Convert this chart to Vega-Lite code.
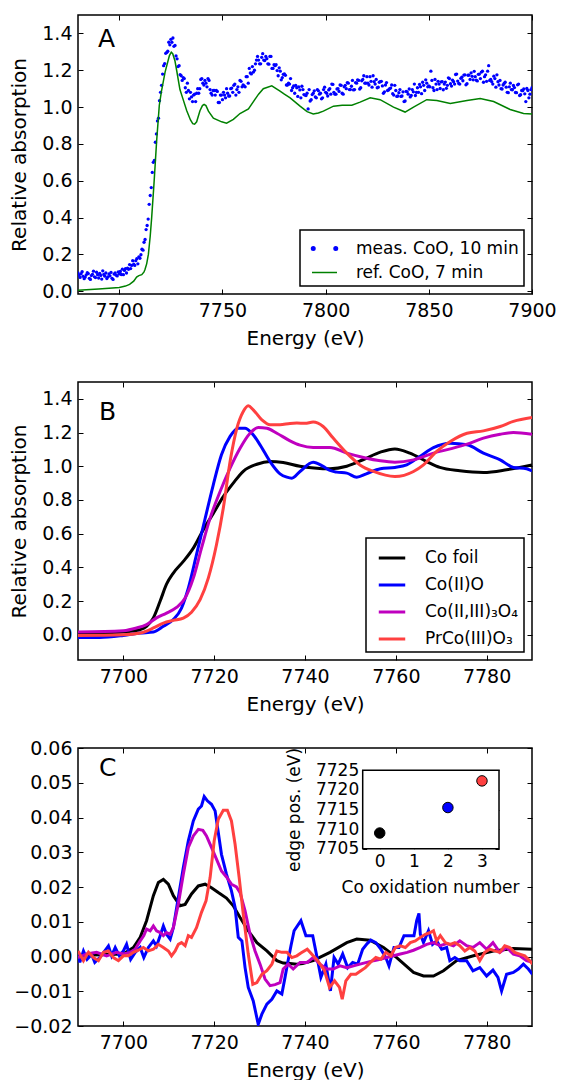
{
"$schema": "https://vega.github.io/schema/vega-lite/v6.json",
"background": "white",
"padding": {"left": 8, "top": 13, "right": 30, "bottom": 0},
"spacing": 88,
"bounds": "flush",
"resolve": {"scale": {"color": "independent"}, "legend": {"color": "independent"}},
"config": {
  "font": "DejaVu Sans",
  "view": {"stroke": "black", "strokeWidth": 1.5},
  "axis": {"domain": false, "grid": false, "ticks": true, "tickColor": "black", "tickWidth": 1, "tickSize": -5, "labelFontSize": 19, "labelColor": "black", "labelPadding": 11, "labelFlush": false, "labelOverlap": false, "titleFontSize": 20, "titleFontWeight": "normal", "titleColor": "black"},
  "axisX": {"labelPadding": 12},
  "legend": {"labelFontSize": 17, "labelColor": "black", "labelLimit": 400, "strokeColor": "black", "fillColor": "white", "padding": 5, "symbolOffset": 6, "rowPadding": 2, "labelOffset": 18, "cornerRadius": 0, "orient": "bottom-right", "offset": 8},
  "title": {"fontSize": 25, "fontWeight": "normal", "anchor": "start", "color": "black", "frame": "group", "baseline": "alphabetic"}
},
"datasets": {
  "measA": [
    {"e":7680,"v":0.099},{"e":7680.5,"v":0.088},{"e":7681,"v":0.075},{"e":7681.5,"v":0.095},{"e":7682,"v":0.106},{"e":7682.5,"v":0.081},{"e":7683,"v":0.068},{"e":7683.5,"v":0.077},{"e":7684,"v":0.089},{"e":7684.5,"v":0.101},{"e":7685,"v":0.096},{"e":7685.5,"v":0.07},{"e":7686,"v":0.064},{"e":7686.5,"v":0.085},{"e":7687,"v":0.092},{"e":7687.5,"v":0.109},{"e":7688,"v":0.078},{"e":7688.5,"v":0.074},{"e":7689,"v":0.103},{"e":7689.5,"v":0.09},{"e":7690,"v":0.072},{"e":7690.5,"v":0.097},{"e":7691,"v":0.086},{"e":7691.5,"v":0.066},{"e":7692,"v":0.111},{"e":7692.5,"v":0.091},{"e":7693,"v":0.082},{"e":7693.5,"v":0.099},{"e":7694,"v":0.069},{"e":7694.5,"v":0.078},{"e":7695,"v":0.094},{"e":7695.5,"v":0.083},{"e":7696,"v":0.102},{"e":7696.5,"v":0.07},{"e":7697,"v":0.064},{"e":7697.5,"v":0.093},{"e":7698,"v":0.1},{"e":7698.5,"v":0.087},{"e":7699,"v":0.083},{"e":7699.5,"v":0.105},{"e":7700,"v":0.094},
    {"e":7700.5,"v":0.107},{"e":7701,"v":0.091},{"e":7701.5,"v":0.12},{"e":7702,"v":0.09},{"e":7702.5,"v":0.113},{"e":7703,"v":0.122},{"e":7703.5,"v":0.099},{"e":7704,"v":0.126},{"e":7704.5,"v":0.119},{"e":7705,"v":0.145},{"e":7705.5,"v":0.123},{"e":7706,"v":0.14},{"e":7706.5,"v":0.166},{"e":7707,"v":0.147},{"e":7707.5,"v":0.14},{"e":7708,"v":0.166},{"e":7708.5,"v":0.177},{"e":7709,"v":0.149},{"e":7709.5,"v":0.187},{"e":7710,"v":0.179},{"e":7710.5,"v":0.198},{"e":7711,"v":0.228},{"e":7711.5,"v":0.223},{"e":7712,"v":0.266},{"e":7712.5,"v":0.281},{"e":7713,"v":0.335},{"e":7713.5,"v":0.357},{"e":7714,"v":0.392},{"e":7714.5,"v":0.472},{"e":7715,"v":0.52},{"e":7715.5,"v":0.563},{"e":7716,"v":0.645},{"e":7716.5,"v":0.7},{"e":7717,"v":0.71},{"e":7717.5,"v":0.809},{"e":7718,"v":0.854},{"e":7718.5,"v":0.925},{"e":7719,"v":0.94},{"e":7719.5,"v":1.035},{"e":7720,"v":1.08},{"e":7720.5,"v":1.118},{"e":7721,"v":1.179},{"e":7721.5,"v":1.225},{"e":7722,"v":1.236},{"e":7722.5,"v":1.292},{"e":7723,"v":1.297},{"e":7723.5,"v":1.303},{"e":7724,"v":1.352},{"e":7724.5,"v":1.338},{"e":7725,"v":1.368},{"e":7725.5,"v":1.352},{"e":7726,"v":1.375},{"e":7726.5,"v":1.33},{"e":7727,"v":1.335},{"e":7727.5,"v":1.278},{"e":7728,"v":1.262},{"e":7728.5,"v":1.22},{"e":7729,"v":1.225},{"e":7729.5,"v":1.176},{"e":7730,"v":1.17},
    {"e":7731,"v":1.16},{"e":7732,"v":1.105},{"e":7733,"v":1.13},{"e":7734,"v":1.045},{"e":7735,"v":1.055},{"e":7736,"v":1.065},{"e":7737,"v":1.03},{"e":7738,"v":1.1},{"e":7739,"v":1.1},{"e":7740,"v":1.155},{"e":7741,"v":1.12},{"e":7742,"v":1.13},{"e":7743,"v":1.155},{"e":7744,"v":1.095},{"e":7745,"v":1.065},{"e":7746,"v":1.09},{"e":7747,"v":1.09},{"e":7748,"v":1.025},{"e":7749,"v":1.065},{"e":7750,"v":1.04},{"e":7751,"v":1.065},{"e":7752,"v":1.1},{"e":7753,"v":1.06},{"e":7754,"v":1.1},{"e":7755,"v":1.08},{"e":7756,"v":1.125},{"e":7757,"v":1.095},{"e":7758,"v":1.08},{"e":7759,"v":1.14},{"e":7760,"v":1.12},{"e":7761,"v":1.11},{"e":7762,"v":1.165},{"e":7763,"v":1.21},{"e":7764,"v":1.18},{"e":7765,"v":1.19},{"e":7766,"v":1.235},{"e":7767,"v":1.275},{"e":7768,"v":1.235},{"e":7769,"v":1.27},{"e":7770,"v":1.255},{"e":7771,"v":1.275},{"e":7772,"v":1.235},{"e":7773,"v":1.275},{"e":7774,"v":1.21},{"e":7775,"v":1.23},{"e":7776,"v":1.23},{"e":7777,"v":1.17},{"e":7778,"v":1.195},{"e":7779,"v":1.16},{"e":7780,"v":1.18},{"e":7781,"v":1.12},{"e":7782,"v":1.13},{"e":7783,"v":1.155},{"e":7784,"v":1.105},{"e":7785,"v":1.075},{"e":7786,"v":1.105},{"e":7787,"v":1.11},{"e":7788,"v":1.05},{"e":7789,"v":1.095},{"e":7790,"v":1.065},{"e":7791,"v":1.075},{"e":7792,"v":1.095},{"e":7793,"v":1.04},{"e":7794,"v":1.075},{"e":7795,"v":1.055},{"e":7796,"v":1.095},{"e":7797,"v":1.07},{"e":7798,"v":1.045},{"e":7799,"v":1.095},{"e":7800,"v":1.08},{"e":7801,"v":1.06},{"e":7802,"v":1.1},{"e":7803,"v":1.125},{"e":7804,"v":1.08},{"e":7805,"v":1.07},{"e":7806,"v":1.1},{"e":7807,"v":1.12},{"e":7808,"v":1.075},{"e":7809,"v":1.11},{"e":7810,"v":1.1},{"e":7811,"v":1.13},{"e":7812,"v":1.095},{"e":7813,"v":1.145},{"e":7814,"v":1.095},{"e":7815,"v":1.13},{"e":7816,"v":1.145},{"e":7817,"v":1.105},{"e":7818,"v":1.15},{"e":7819,"v":1.13},{"e":7820,"v":1.165},{"e":7821,"v":1.12},{"e":7822,"v":1.14},{"e":7823,"v":1.17},{"e":7824,"v":1.125},{"e":7825,"v":1.105},{"e":7826,"v":1.135},{"e":7827,"v":1.14},{"e":7828,"v":1.075},{"e":7829,"v":1.12},{"e":7830,"v":1.09},{"e":7831,"v":1.1},{"e":7832,"v":1.12},{"e":7833,"v":1.065},{"e":7834,"v":1.09},{"e":7835,"v":1.06},{"e":7836,"v":1.095},{"e":7837,"v":1.06},{"e":7838,"v":1.03},{"e":7839,"v":1.085},{"e":7840,"v":1.07},{"e":7841,"v":1.055},{"e":7842,"v":1.095},{"e":7843,"v":1.125},{"e":7844,"v":1.08},{"e":7845,"v":1.08},{"e":7846,"v":1.11},{"e":7847,"v":1.135},{"e":7848,"v":1.09},{"e":7849,"v":1.13},{"e":7850,"v":1.115},{"e":7851,"v":1.195},{"e":7852,"v":1.105},{"e":7853,"v":1.15},{"e":7854,"v":1.095},{"e":7855,"v":1.125},{"e":7856,"v":1.137},{"e":7857,"v":1.094},{"e":7858,"v":1.136},{"e":7859,"v":1.118},{"e":7860,"v":1.155},{"e":7861,"v":1.114},{"e":7862,"v":1.138},{"e":7863,"v":1.177},{"e":7864,"v":1.141},{"e":7865,"v":1.125},{"e":7866,"v":1.162},{"e":7867,"v":1.174},{"e":7868,"v":1.121},{"e":7869,"v":1.173},{"e":7870,"v":1.15},{"e":7871,"v":1.167},{"e":7872,"v":1.194},{"e":7873,"v":1.146},{"e":7874,"v":1.178},{"e":7875,"v":1.155},{"e":7876,"v":1.195},{"e":7877,"v":1.165},{"e":7878,"v":1.14},{"e":7879,"v":1.225},{"e":7880,"v":1.15},{"e":7881,"v":1.125},{"e":7882,"v":1.155},{"e":7883,"v":1.175},{"e":7884,"v":1.12},{"e":7885,"v":1.1},{"e":7886,"v":1.12},{"e":7887,"v":1.135},{"e":7888,"v":1.08},{"e":7889,"v":1.11},{"e":7890,"v":1.095},{"e":7891,"v":1.117},{"e":7892,"v":1.079},{"e":7893,"v":1.121},{"e":7894,"v":1.063},{"e":7895,"v":1.09},{"e":7896,"v":1.098},{"e":7897,"v":1.03},{"e":7898,"v":1.09},{"e":7899,"v":1.07},{"e":7900,"v":1.105},
    {"e":7730.5,"v":1.145},{"e":7731.5,"v":1.155},{"e":7732.5,"v":1.08},{"e":7733.5,"v":1.09},{"e":7734.5,"v":1.08},{"e":7735.5,"v":1.03},{"e":7736.5,"v":1.07},{"e":7737.5,"v":1.075},{"e":7738.5,"v":1.075},{"e":7739.5,"v":1.15},{"e":7740.5,"v":1.13},{"e":7741.5,"v":1.145},{"e":7742.5,"v":1.11},{"e":7743.5,"v":1.145},{"e":7744.5,"v":1.075},{"e":7745.5,"v":1.09},{"e":7746.5,"v":1.065},{"e":7747.5,"v":1.085},{"e":7748.5,"v":1.025},{"e":7749.5,"v":1.065},{"e":7750.5,"v":1.08},{"e":7751.5,"v":1.05},{"e":7752.5,"v":1.075},{"e":7753.5,"v":1.06},{"e":7754.5,"v":1.103},{"e":7755.5,"v":1.118},{"e":7756.5,"v":1.065},{"e":7757.5,"v":1.11},{"e":7758.5,"v":1.145},{"e":7759.5,"v":1.11},{"e":7760.5,"v":1.115},{"e":7761.5,"v":1.165},{"e":7762.5,"v":1.13},{"e":7763.5,"v":1.185},{"e":7764.5,"v":1.22},{"e":7765.5,"v":1.2},{"e":7766.5,"v":1.255},{"e":7767.5,"v":1.255},{"e":7768.5,"v":1.235},{"e":7769.5,"v":1.29},{"e":7770.5,"v":1.253},{"e":7771.5,"v":1.263},{"e":7772.5,"v":1.233},{"e":7773.5,"v":1.275},{"e":7774.5,"v":1.21},{"e":7775.5,"v":1.225},{"e":7776.5,"v":1.198},{"e":7777.5,"v":1.213},{"e":7778.5,"v":1.148},{"e":7779.5,"v":1.178},{"e":7780.5,"v":1.173},{"e":7781.5,"v":1.12},{"e":7782.5,"v":1.125},{"e":7783.5,"v":1.09},{"e":7784.5,"v":1.115},{"e":7785.5,"v":1.118},{"e":7786.5,"v":1.058},{"e":7787.5,"v":1.093},{"e":7788.5,"v":1.113},{"e":7789.5,"v":1.068},{"e":7790.5,"v":1.063},{"e":7791.5,"v":0.99},{"e":7792.5,"v":1.033},{"e":7793.5,"v":1.068},{"e":7794.5,"v":1.088},{"e":7795.5,"v":1.05},{"e":7796.5,"v":1.088},{"e":7797.5,"v":1.075},{"e":7798.5,"v":1.05},{"e":7799.5,"v":1.108},{"e":7800.5,"v":1.075},{"e":7801.5,"v":1.093},{"e":7802.5,"v":1.07},{"e":7803.5,"v":1.123},{"e":7804.5,"v":1.07},{"e":7805.5,"v":1.098},{"e":7806.5,"v":1.085},{"e":7807.5,"v":1.118},{"e":7808.5,"v":1.07},{"e":7809.5,"v":1.118},{"e":7810.5,"v":1.133},{"e":7811.5,"v":1.095},{"e":7812.5,"v":1.113},{"e":7813.5,"v":1.093},{"e":7814.5,"v":1.133},{"e":7815.5,"v":1.148},{"e":7816.5,"v":1.098},{"e":7817.5,"v":1.143},{"e":7818.5,"v":1.17},{"e":7819.5,"v":1.13},{"e":7820.5,"v":1.13},{"e":7821.5,"v":1.165},{"e":7822.5,"v":1.108},{"e":7823.5,"v":1.138},{"e":7824.5,"v":1.15},{"e":7825.5,"v":1.108},{"e":7826.5,"v":1.138},{"e":7827.5,"v":1.115},{"e":7828.5,"v":1.083},{"e":7829.5,"v":1.133},{"e":7830.5,"v":1.093},{"e":7831.5,"v":1.103},{"e":7832.5,"v":1.073},{"e":7833.5,"v":1.118},{"e":7834.5,"v":1.058},{"e":7835.5,"v":1.078},{"e":7836.5,"v":1.058},{"e":7837.5,"v":1.083},{"e":7838.5,"v":1.033},{"e":7839.5,"v":1.083},{"e":7840.5,"v":1.098},{"e":7841.5,"v":1.063},{"e":7842.5,"v":1.083},{"e":7843.5,"v":1.063},{"e":7844.5,"v":1.105},{"e":7845.5,"v":1.123},{"e":7846.5,"v":1.073},{"e":7847.5,"v":1.118},{"e":7848.5,"v":1.148},{"e":7849.5,"v":1.11},{"e":7850.5,"v":1.11},{"e":7851.5,"v":1.145},{"e":7852.5,"v":1.09},{"e":7853.5,"v":1.125},{"e":7854.5,"v":1.14},{"e":7855.5,"v":1.101},{"e":7856.5,"v":1.138},{"e":7857.5,"v":1.125},{"e":7858.5,"v":1.102},{"e":7859.5,"v":1.159},{"e":7860.5,"v":1.127},{"e":7861.5,"v":1.146},{"e":7862.5,"v":1.125},{"e":7863.5,"v":1.179},{"e":7864.5,"v":1.128},{"e":7865.5,"v":1.156},{"e":7866.5,"v":1.143},{"e":7867.5,"v":1.175},{"e":7868.5,"v":1.127},{"e":7869.5,"v":1.174},{"e":7870.5,"v":1.186},{"e":7871.5,"v":1.148},{"e":7872.5,"v":1.165},{"e":7873.5,"v":1.142},{"e":7874.5,"v":1.179},{"e":7875.5,"v":1.19},{"e":7876.5,"v":1.135},{"e":7877.5,"v":1.175},{"e":7878.5,"v":1.195},{"e":7879.5,"v":1.145},{"e":7880.5,"v":1.138},{"e":7881.5,"v":1.168},{"e":7882.5,"v":1.108},{"e":7883.5,"v":1.138},{"e":7884.5,"v":1.145},{"e":7885.5,"v":1.098},{"e":7886.5,"v":1.128},{"e":7887.5,"v":1.108},{"e":7888.5,"v":1.078},{"e":7889.5,"v":1.13},{"e":7890.5,"v":1.094},{"e":7891.5,"v":1.106},{"e":7892.5,"v":1.078},{"e":7893.5,"v":1.125},{"e":7894.5,"v":1.067},{"e":7895.5,"v":1.089},{"e":7896.5,"v":1.072},{"e":7897.5,"v":1.101},{"e":7898.5,"v":1.05},{"e":7899.5,"v":1.095}
  ],
  "refA": [
    {"e":7680,"v":0.005},{"e":7690,"v":0.012},{"e":7700,"v":0.02},{"e":7703,"v":0.028},{"e":7705,"v":0.037},{"e":7707,"v":0.055},{"e":7708.4,"v":0.077},{"e":7709.5,"v":0.085},{"e":7710.9,"v":0.09},{"e":7712,"v":0.105},{"e":7712.5,"v":0.12},{"e":7713.3,"v":0.15},{"e":7714.1,"v":0.2},{"e":7715,"v":0.3},{"e":7715.7,"v":0.4},{"e":7716.8,"v":0.58},{"e":7718.1,"v":0.815},{"e":7719.4,"v":1.01},{"e":7720.5,"v":1.09},{"e":7722.2,"v":1.19},{"e":7724.3,"v":1.28},{"e":7725.2,"v":1.298},{"e":7725.9,"v":1.29},{"e":7727,"v":1.25},{"e":7727.8,"v":1.2},{"e":7729.4,"v":1.095},{"e":7730.7,"v":1.05},{"e":7732.7,"v":0.98},{"e":7734.5,"v":0.93},{"e":7735.6,"v":0.91},{"e":7736.5,"v":0.907},{"e":7737.5,"v":0.92},{"e":7739.1,"v":0.98},{"e":7740.3,"v":1.008},{"e":7741.1,"v":1.015},{"e":7742,"v":1.008},{"e":7743.2,"v":0.978},{"e":7745.6,"v":0.94},{"e":7749.6,"v":0.92},{"e":7752,"v":0.913},{"e":7755.3,"v":0.933},{"e":7758.5,"v":0.965},{"e":7762.6,"v":0.99},{"e":7765,"v":1.03},{"e":7767.5,"v":1.07},{"e":7769.8,"v":1.1},{"e":7773.9,"v":1.115},{"e":7777.9,"v":1.087},{"e":7780,"v":1.07},{"e":7782.8,"v":1.05},{"e":7787.6,"v":1.005},{"e":7791,"v":0.975},{"e":7794,"v":0.963},{"e":7796.5,"v":0.968},{"e":7798.9,"v":0.978},{"e":7803.8,"v":1.005},{"e":7808,"v":1.01},{"e":7812.7,"v":1.01},{"e":7816.7,"v":1.027},{"e":7821.6,"v":1.05},{"e":7826.4,"v":1.04},{"e":7832.9,"v":1.0},{"e":7838.5,"v":0.973},{"e":7842.6,"v":1.0},{"e":7849,"v":1.04},{"e":7853.9,"v":1.036},{"e":7860.4,"v":1.02},{"e":7868.5,"v":1.036},{"e":7874.9,"v":1.047},{"e":7881.4,"v":1.03},{"e":7889.4,"v":0.987},{"e":7895.9,"v":0.965},{"e":7900,"v":0.963}
  ],
  "B": [
    {"s":"Co foil","e":7690,"v":0.01},{"s":"Co foil","e":7695,"v":0.012},{"s":"Co foil","e":7700,"v":0.016},{"s":"Co foil","e":7702,"v":0.022},{"s":"Co foil","e":7703.7,"v":0.03},{"s":"Co foil","e":7705.1,"v":0.05},{"s":"Co foil","e":7706.6,"v":0.1},{"s":"Co foil","e":7708.1,"v":0.2},{"s":"Co foil","e":7709.5,"v":0.3},{"s":"Co foil","e":7711,"v":0.366},{"s":"Co foil","e":7713.2,"v":0.435},{"s":"Co foil","e":7715.4,"v":0.514},{"s":"Co foil","e":7717.6,"v":0.623},{"s":"Co foil","e":7719.8,"v":0.72},{"s":"Co foil","e":7722,"v":0.82},{"s":"Co foil","e":7724.2,"v":0.9},{"s":"Co foil","e":7726.4,"v":0.97},{"s":"Co foil","e":7729.4,"v":1.012},{"s":"Co foil","e":7732.3,"v":1.028},{"s":"Co foil","e":7735.2,"v":1.022},{"s":"Co foil","e":7738.9,"v":1.0},{"s":"Co foil","e":7742,"v":0.99},{"s":"Co foil","e":7745.5,"v":0.985},{"s":"Co foil","e":7749.2,"v":1.0},{"s":"Co foil","e":7752.9,"v":1.04},{"s":"Co foil","e":7756.6,"v":1.084},{"s":"Co foil","e":7759.8,"v":1.103},{"s":"Co foil","e":7763.1,"v":1.078},{"s":"Co foil","e":7766.8,"v":1.028},{"s":"Co foil","e":7769.7,"v":0.993},{"s":"Co foil","e":7774.1,"v":0.973},{"s":"Co foil","e":7779.3,"v":0.963},{"s":"Co foil","e":7784.4,"v":0.979},{"s":"Co foil","e":7790,"v":1.008},
    {"s":"Co(II)O","e":7690,"v":-0.016},{"s":"Co(II)O","e":7694.8,"v":-0.016},{"s":"Co(II)O","e":7700,"v":-0.004},{"s":"Co(II)O","e":7703.7,"v":0.01},{"s":"Co(II)O","e":7706.6,"v":0.016},{"s":"Co(II)O","e":7708.8,"v":0.05},{"s":"Co(II)O","e":7711,"v":0.09},{"s":"Co(II)O","e":7712.8,"v":0.158},{"s":"Co(II)O","e":7714.3,"v":0.277},{"s":"Co(II)O","e":7716.1,"v":0.475},{"s":"Co(II)O","e":7718,"v":0.69},{"s":"Co(II)O","e":7719.8,"v":0.89},{"s":"Co(II)O","e":7721.6,"v":1.068},{"s":"Co(II)O","e":7723.5,"v":1.177},{"s":"Co(II)O","e":7725.3,"v":1.226},{"s":"Co(II)O","e":7726.8,"v":1.226},{"s":"Co(II)O","e":7728.3,"v":1.196},{"s":"Co(II)O","e":7730.1,"v":1.127},{"s":"Co(II)O","e":7732.3,"v":1.028},{"s":"Co(II)O","e":7734.5,"v":0.955},{"s":"Co(II)O","e":7736,"v":0.935},{"s":"Co(II)O","e":7737.1,"v":0.929},{"s":"Co(II)O","e":7738.9,"v":0.969},{"s":"Co(II)O","e":7741.8,"v":1.024},{"s":"Co(II)O","e":7744,"v":0.999},{"s":"Co(II)O","e":7745.5,"v":0.975},{"s":"Co(II)O","e":7747,"v":0.965},{"s":"Co(II)O","e":7749.2,"v":0.959},{"s":"Co(II)O","e":7751.4,"v":0.935},{"s":"Co(II)O","e":7753.5,"v":0.955},{"s":"Co(II)O","e":7756.6,"v":0.985},{"s":"Co(II)O","e":7759.8,"v":0.993},{"s":"Co(II)O","e":7762.4,"v":1.008},{"s":"Co(II)O","e":7765.3,"v":1.058},{"s":"Co(II)O","e":7768.3,"v":1.111},{"s":"Co(II)O","e":7772,"v":1.137},{"s":"Co(II)O","e":7775.7,"v":1.127},{"s":"Co(II)O","e":7779.3,"v":1.078},{"s":"Co(II)O","e":7783,"v":1.038},{"s":"Co(II)O","e":7785.9,"v":0.993},{"s":"Co(II)O","e":7788.8,"v":0.985},{"s":"Co(II)O","e":7790,"v":0.973},
    {"s":"Co(II,III)₃O₄","e":7690,"v":0.016},{"s":"Co(II,III)₃O₄","e":7700,"v":0.024},{"s":"Co(II,III)₃O₄","e":7702.9,"v":0.04},{"s":"Co(II,III)₃O₄","e":7705.1,"v":0.06},{"s":"Co(II,III)₃O₄","e":7707.3,"v":0.1},{"s":"Co(II,III)₃O₄","e":7709.5,"v":0.128},{"s":"Co(II,III)₃O₄","e":7711.7,"v":0.162},{"s":"Co(II,III)₃O₄","e":7713.6,"v":0.218},{"s":"Co(II,III)₃O₄","e":7715.4,"v":0.336},{"s":"Co(II,III)₃O₄","e":7717.2,"v":0.514},{"s":"Co(II,III)₃O₄","e":7719.1,"v":0.692},{"s":"Co(II,III)₃O₄","e":7721.3,"v":0.85},{"s":"Co(II,III)₃O₄","e":7723.5,"v":0.989},{"s":"Co(II,III)₃O₄","e":7725.7,"v":1.107},{"s":"Co(II,III)₃O₄","e":7727.9,"v":1.196},{"s":"Co(II,III)₃O₄","e":7729.7,"v":1.23},{"s":"Co(II,III)₃O₄","e":7731.6,"v":1.226},{"s":"Co(II,III)₃O₄","e":7733.8,"v":1.196},{"s":"Co(II,III)₃O₄","e":7736.7,"v":1.151},{"s":"Co(II,III)₃O₄","e":7738.9,"v":1.125},{"s":"Co(II,III)₃O₄","e":7741.8,"v":1.111},{"s":"Co(II,III)₃O₄","e":7745.5,"v":1.111},{"s":"Co(II,III)₃O₄","e":7749.2,"v":1.078},{"s":"Co(II,III)₃O₄","e":7752.9,"v":1.052},{"s":"Co(II,III)₃O₄","e":7756.6,"v":1.032},{"s":"Co(II,III)₃O₄","e":7759.8,"v":1.024},{"s":"Co(II,III)₃O₄","e":7763.9,"v":1.038},{"s":"Co(II,III)₃O₄","e":7768.3,"v":1.078},{"s":"Co(II,III)₃O₄","e":7772,"v":1.103},{"s":"Co(II,III)₃O₄","e":7775.7,"v":1.131},{"s":"Co(II,III)₃O₄","e":7779.3,"v":1.167},{"s":"Co(II,III)₃O₄","e":7783,"v":1.19},{"s":"Co(II,III)₃O₄","e":7785.9,"v":1.2},{"s":"Co(II,III)₃O₄","e":7790,"v":1.19},
    {"s":"PrCo(III)O₃","e":7690,"v":-0.004},{"s":"PrCo(III)O₃","e":7700,"v":0.0},{"s":"PrCo(III)O₃","e":7703.7,"v":0.01},{"s":"PrCo(III)O₃","e":7706.6,"v":0.04},{"s":"PrCo(III)O₃","e":7708.8,"v":0.069},{"s":"PrCo(III)O₃","e":7711,"v":0.085},{"s":"PrCo(III)O₃","e":7713.2,"v":0.099},{"s":"PrCo(III)O₃","e":7715,"v":0.134},{"s":"PrCo(III)O₃","e":7716.9,"v":0.208},{"s":"PrCo(III)O₃","e":7718.7,"v":0.336},{"s":"PrCo(III)O₃","e":7720.5,"v":0.534},{"s":"PrCo(III)O₃","e":7722,"v":0.751},{"s":"PrCo(III)O₃","e":7723.5,"v":1.028},{"s":"PrCo(III)O₃","e":7725,"v":1.226},{"s":"PrCo(III)O₃","e":7726.4,"v":1.325},{"s":"PrCo(III)O₃","e":7727.5,"v":1.359},{"s":"PrCo(III)O₃","e":7728.6,"v":1.335},{"s":"PrCo(III)O₃","e":7730.5,"v":1.275},{"s":"PrCo(III)O₃","e":7732.3,"v":1.246},{"s":"PrCo(III)O₃","e":7734.5,"v":1.246},{"s":"PrCo(III)O₃","e":7736.7,"v":1.254},{"s":"PrCo(III)O₃","e":7738.2,"v":1.256},{"s":"PrCo(III)O₃","e":7740,"v":1.255},{"s":"PrCo(III)O₃","e":7741.8,"v":1.262},{"s":"PrCo(III)O₃","e":7744,"v":1.236},{"s":"PrCo(III)O₃","e":7746.2,"v":1.167},{"s":"PrCo(III)O₃","e":7749.2,"v":1.078},{"s":"PrCo(III)O₃","e":7752.1,"v":1.008},{"s":"PrCo(III)O₃","e":7755.1,"v":0.969},{"s":"PrCo(III)O₃","e":7759.8,"v":0.939},{"s":"PrCo(III)O₃","e":7763.9,"v":0.969},{"s":"PrCo(III)O₃","e":7766.1,"v":1.008},{"s":"PrCo(III)O₃","e":7769,"v":1.088},{"s":"PrCo(III)O₃","e":7772,"v":1.147},{"s":"PrCo(III)O₃","e":7775.7,"v":1.196},{"s":"PrCo(III)O₃","e":7779.3,"v":1.21},{"s":"PrCo(III)O₃","e":7783,"v":1.236},{"s":"PrCo(III)O₃","e":7785.9,"v":1.266},{"s":"PrCo(III)O₃","e":7790,"v":1.289}
  ],
  "C": [
    {"s":"Co foil","e":7690,"v":0.0002},{"s":"Co foil","e":7694.8,"v":0.0005},{"s":"Co foil","e":7700,"v":0.0007},{"s":"Co foil","e":7702.2,"v":0.0026},{"s":"Co foil","e":7703.7,"v":0.0055},{"s":"Co foil","e":7705.1,"v":0.0103},{"s":"Co foil","e":7706.6,"v":0.0175},{"s":"Co foil","e":7707.7,"v":0.0213},{"s":"Co foil","e":7708.8,"v":0.0222},{"s":"Co foil","e":7709.9,"v":0.0208},{"s":"Co foil","e":7711,"v":0.0175},{"s":"Co foil","e":7712.5,"v":0.0146},{"s":"Co foil","e":7713.6,"v":0.015},{"s":"Co foil","e":7715,"v":0.018},{"s":"Co foil","e":7716.5,"v":0.0203},{"s":"Co foil","e":7718,"v":0.0208},{"s":"Co foil","e":7719.4,"v":0.0198},{"s":"Co foil","e":7720.9,"v":0.0184},{"s":"Co foil","e":7722.7,"v":0.0168},{"s":"Co foil","e":7724.2,"v":0.0146},{"s":"Co foil","e":7725.7,"v":0.0112},{"s":"Co foil","e":7727.5,"v":0.0074},{"s":"Co foil","e":7729.4,"v":0.004},{"s":"Co foil","e":7731.6,"v":0.0016},{"s":"Co foil","e":7733.8,"v":-0.0012},{"s":"Co foil","e":7735.2,"v":-0.0019},{"s":"Co foil","e":7736.7,"v":-0.002},{"s":"Co foil","e":7738.2,"v":-0.0022},{"s":"Co foil","e":7739.5,"v":-0.002},{"s":"Co foil","e":7741.8,"v":-0.0012},{"s":"Co foil","e":7745.5,"v":0.0012},{"s":"Co foil","e":7749.2,"v":0.004},{"s":"Co foil","e":7751.4,"v":0.005},{"s":"Co foil","e":7754.3,"v":0.0047},{"s":"Co foil","e":7757.3,"v":0.0026},{"s":"Co foil","e":7760.2,"v":-0.0003},{"s":"Co foil","e":7763.9,"v":-0.0046},{"s":"Co foil","e":7766.1,"v":-0.0056},{"s":"Co foil","e":7768.3,"v":-0.0056},{"s":"Co foil","e":7770.5,"v":-0.0041},{"s":"Co foil","e":7773.4,"v":-0.0012},{"s":"Co foil","e":7777.1,"v":0.0002},{"s":"Co foil","e":7781.5,"v":0.0016},{"s":"Co foil","e":7785.9,"v":0.0023},{"s":"Co foil","e":7790.1,"v":0.0021},
    {"s":"Co(II)O","e":7690,"v":0.0012},{"s":"Co(II)O","e":7690.4,"v":-0.0017},{"s":"Co(II)O","e":7691.2,"v":0.0016},{"s":"Co(II)O","e":7692,"v":-0.0008},{"s":"Co(II)O","e":7693,"v":0.0006},{"s":"Co(II)O","e":7693.7,"v":-0.0017},{"s":"Co(II)O","e":7694.8,"v":-0.0003},{"s":"Co(II)O","e":7695.9,"v":0.0016},{"s":"Co(II)O","e":7696.7,"v":0.003},{"s":"Co(II)O","e":7697.4,"v":0.0002},{"s":"Co(II)O","e":7698.2,"v":0.0026},{"s":"Co(II)O","e":7699.1,"v":0.0002},{"s":"Co(II)O","e":7700,"v":0.0016},{"s":"Co(II)O","e":7700.7,"v":0.0035},{"s":"Co(II)O","e":7701.6,"v":-0.0008},{"s":"Co(II)O","e":7702.6,"v":0.0012},{"s":"Co(II)O","e":7703.7,"v":0.0026},{"s":"Co(II)O","e":7704.5,"v":-0.0003},{"s":"Co(II)O","e":7705.5,"v":0.0026},{"s":"Co(II)O","e":7706.6,"v":0.0045},{"s":"Co(II)O","e":7707.3,"v":0.003},{"s":"Co(II)O","e":7708.1,"v":0.006},{"s":"Co(II)O","e":7708.8,"v":0.0088},{"s":"Co(II)O","e":7709.5,"v":0.0064},{"s":"Co(II)O","e":7710.3,"v":0.005},{"s":"Co(II)O","e":7711,"v":0.0083},{"s":"Co(II)O","e":7712.1,"v":0.017},{"s":"Co(II)O","e":7713.2,"v":0.0256},{"s":"Co(II)O","e":7714.3,"v":0.0333},{"s":"Co(II)O","e":7715.4,"v":0.039},{"s":"Co(II)O","e":7716.5,"v":0.0424},{"s":"Co(II)O","e":7717.2,"v":0.0433},{"s":"Co(II)O","e":7717.8,"v":0.046},{"s":"Co(II)O","e":7718.5,"v":0.0448},{"s":"Co(II)O","e":7719.4,"v":0.0438},{"s":"Co(II)O","e":7720.2,"v":0.0419},{"s":"Co(II)O","e":7720.9,"v":0.0357},{"s":"Co(II)O","e":7721.6,"v":0.0294},{"s":"Co(II)O","e":7722.7,"v":0.0237},{"s":"Co(II)O","e":7723.8,"v":0.0189},{"s":"Co(II)O","e":7724.6,"v":0.0141},{"s":"Co(II)O","e":7725.3,"v":0.0055},{"s":"Co(II)O","e":7726.1,"v":0.0045},{"s":"Co(II)O","e":7726.8,"v":-0.0032},{"s":"Co(II)O","e":7727.5,"v":-0.0089},{"s":"Co(II)O","e":7728.6,"v":-0.0128},{"s":"Co(II)O","e":7729.7,"v":-0.0195},{"s":"Co(II)O","e":7730.5,"v":-0.0166},{"s":"Co(II)O","e":7731.6,"v":-0.0137},{"s":"Co(II)O","e":7732.7,"v":-0.0123},{"s":"Co(II)O","e":7733.8,"v":-0.0099},{"s":"Co(II)O","e":7734.9,"v":-0.0108},{"s":"Co(II)O","e":7735.6,"v":-0.006},{"s":"Co(II)O","e":7736.3,"v":-0.001},{"s":"Co(II)O","e":7736.9,"v":0.003},{"s":"Co(II)O","e":7737.6,"v":0.0074},{"s":"Co(II)O","e":7739.1,"v":0.0103},{"s":"Co(II)O","e":7740.2,"v":0.006},{"s":"Co(II)O","e":7741.7,"v":0.006},{"s":"Co(II)O","e":7742.8,"v":-0.0012},{"s":"Co(II)O","e":7743.5,"v":-0.006},{"s":"Co(II)O","e":7744.6,"v":-0.0022},{"s":"Co(II)O","e":7745.6,"v":-0.0099},{"s":"Co(II)O","e":7746.4,"v":-0.0003},{"s":"Co(II)O","e":7747.3,"v":-0.0022},{"s":"Co(II)O","e":7748.3,"v":0.0007},{"s":"Co(II)O","e":7749.4,"v":-0.0032},{"s":"Co(II)O","e":7750.5,"v":-0.0017},{"s":"Co(II)O","e":7751.6,"v":-0.0022},{"s":"Co(II)O","e":7752.7,"v":0.0021},{"s":"Co(II)O","e":7753.7,"v":0.0037},{"s":"Co(II)O","e":7754.5,"v":0.0047},{"s":"Co(II)O","e":7755.6,"v":0.004},{"s":"Co(II)O","e":7756.7,"v":0.0021},{"s":"Co(II)O","e":7757.8,"v":-0.0003},{"s":"Co(II)O","e":7758.5,"v":-0.0027},{"s":"Co(II)O","e":7759.6,"v":0.0026},{"s":"Co(II)O","e":7760.7,"v":0.0026},{"s":"Co(II)O","e":7761.8,"v":0.006},{"s":"Co(II)O","e":7762.9,"v":0.006},{"s":"Co(II)O","e":7764,"v":0.006},{"s":"Co(II)O","e":7764.6,"v":0.0103},{"s":"Co(II)O","e":7765.1,"v":0.0124},{"s":"Co(II)O","e":7765.4,"v":0.0064},{"s":"Co(II)O","e":7766.1,"v":0.004},{"s":"Co(II)O","e":7767.2,"v":0.0074},{"s":"Co(II)O","e":7768.1,"v":0.0035},{"s":"Co(II)O","e":7769,"v":0.0045},{"s":"Co(II)O","e":7770.1,"v":0.0021},{"s":"Co(II)O","e":7771.2,"v":0.0026},{"s":"Co(II)O","e":7771.9,"v":-0.0012},{"s":"Co(II)O","e":7773,"v":-0.0003},{"s":"Co(II)O","e":7774.1,"v":-0.0012},{"s":"Co(II)O","e":7775.6,"v":-0.0012},{"s":"Co(II)O","e":7777,"v":-0.0041},{"s":"Co(II)O","e":7778.5,"v":-0.0032},{"s":"Co(II)O","e":7780,"v":-0.0056},{"s":"Co(II)O","e":7781.4,"v":-0.0039},{"s":"Co(II)O","e":7782.5,"v":-0.006},{"s":"Co(II)O","e":7783.3,"v":-0.0099},{"s":"Co(II)O","e":7784.4,"v":-0.0051},{"s":"Co(II)O","e":7785.9,"v":-0.0046},{"s":"Co(II)O","e":7787,"v":-0.0036},{"s":"Co(II)O","e":7788.1,"v":-0.0022},{"s":"Co(II)O","e":7789.2,"v":-0.0036},{"s":"Co(II)O","e":7790.1,"v":-0.0051},
    {"s":"Co(II,III)₃O₄","e":7690,"v":-0.0003},{"s":"Co(II,III)₃O₄","e":7691.9,"v":0.0007},{"s":"Co(II,III)₃O₄","e":7694.1,"v":0.0012},{"s":"Co(II,III)₃O₄","e":7696.3,"v":0.0002},{"s":"Co(II,III)₃O₄","e":7698.5,"v":0.0012},{"s":"Co(II,III)₃O₄","e":7700,"v":0.0007},{"s":"Co(II,III)₃O₄","e":7701.5,"v":0.0012},{"s":"Co(II,III)₃O₄","e":7702.6,"v":0.0021},{"s":"Co(II,III)₃O₄","e":7703.7,"v":0.0045},{"s":"Co(II,III)₃O₄","e":7704.5,"v":0.006},{"s":"Co(II,III)₃O₄","e":7705.1,"v":0.0079},{"s":"Co(II,III)₃O₄","e":7705.9,"v":0.0074},{"s":"Co(II,III)₃O₄","e":7706.6,"v":0.0088},{"s":"Co(II,III)₃O₄","e":7707.3,"v":0.0074},{"s":"Co(II,III)₃O₄","e":7708.1,"v":0.0069},{"s":"Co(II,III)₃O₄","e":7708.8,"v":0.006},{"s":"Co(II,III)₃O₄","e":7709.5,"v":0.0069},{"s":"Co(II,III)₃O₄","e":7710.3,"v":0.0064},{"s":"Co(II,III)₃O₄","e":7711,"v":0.0083},{"s":"Co(II,III)₃O₄","e":7712.1,"v":0.0151},{"s":"Co(II,III)₃O₄","e":7713.2,"v":0.0237},{"s":"Co(II,III)₃O₄","e":7714.3,"v":0.0314},{"s":"Co(II,III)₃O₄","e":7715.4,"v":0.0347},{"s":"Co(II,III)₃O₄","e":7716.5,"v":0.0366},{"s":"Co(II,III)₃O₄","e":7717.5,"v":0.0363},{"s":"Co(II,III)₃O₄","e":7718.3,"v":0.0347},{"s":"Co(II,III)₃O₄","e":7719.4,"v":0.0314},{"s":"Co(II,III)₃O₄","e":7720.5,"v":0.028},{"s":"Co(II,III)₃O₄","e":7721.6,"v":0.0246},{"s":"Co(II,III)₃O₄","e":7722.7,"v":0.0229},{"s":"Co(II,III)₃O₄","e":7723.8,"v":0.0208},{"s":"Co(II,III)₃O₄","e":7724.9,"v":0.02},{"s":"Co(II,III)₃O₄","e":7725.7,"v":0.0184},{"s":"Co(II,III)₃O₄","e":7726.8,"v":0.0131},{"s":"Co(II,III)₃O₄","e":7727.9,"v":0.0064},{"s":"Co(II,III)₃O₄","e":7729,"v":0.0016},{"s":"Co(II,III)₃O₄","e":7730.1,"v":-0.0022},{"s":"Co(II,III)₃O₄","e":7731.2,"v":-0.0065},{"s":"Co(II,III)₃O₄","e":7732.3,"v":-0.0084},{"s":"Co(II,III)₃O₄","e":7733.4,"v":-0.0081},{"s":"Co(II,III)₃O₄","e":7734.5,"v":-0.0075},{"s":"Co(II,III)₃O₄","e":7735.2,"v":-0.0036},{"s":"Co(II,III)₃O₄","e":7736.3,"v":-0.0022},{"s":"Co(II,III)₃O₄","e":7737.4,"v":-0.0036},{"s":"Co(II,III)₃O₄","e":7738.9,"v":-0.0017},{"s":"Co(II,III)₃O₄","e":7740.5,"v":-0.0017},{"s":"Co(II,III)₃O₄","e":7741.8,"v":-0.0003},{"s":"Co(II,III)₃O₄","e":7743.3,"v":-0.0022},{"s":"Co(II,III)₃O₄","e":7744.8,"v":-0.0036},{"s":"Co(II,III)₃O₄","e":7746.2,"v":-0.0036},{"s":"Co(II,III)₃O₄","e":7747.7,"v":-0.0027},{"s":"Co(II,III)₃O₄","e":7749.2,"v":-0.0032},{"s":"Co(II,III)₃O₄","e":7750.7,"v":-0.0027},{"s":"Co(II,III)₃O₄","e":7752.1,"v":-0.0022},{"s":"Co(II,III)₃O₄","e":7753.6,"v":-0.0017},{"s":"Co(II,III)₃O₄","e":7755.1,"v":-0.0012},{"s":"Co(II,III)₃O₄","e":7756.6,"v":-0.0008},{"s":"Co(II,III)₃O₄","e":7758,"v":-0.0003},{"s":"Co(II,III)₃O₄","e":7759.5,"v":0.0002},{"s":"Co(II,III)₃O₄","e":7761,"v":0.0007},{"s":"Co(II,III)₃O₄","e":7762.5,"v":0.0012},{"s":"Co(II,III)₃O₄","e":7763.9,"v":0.0018},{"s":"Co(II,III)₃O₄","e":7765.4,"v":0.0026},{"s":"Co(II,III)₃O₄","e":7766.8,"v":0.0035},{"s":"Co(II,III)₃O₄","e":7768.3,"v":0.004},{"s":"Co(II,III)₃O₄","e":7769.8,"v":0.0031},{"s":"Co(II,III)₃O₄","e":7771.2,"v":0.0037},{"s":"Co(II,III)₃O₄","e":7772.7,"v":0.0031},{"s":"Co(II,III)₃O₄","e":7774.1,"v":0.0045},{"s":"Co(II,III)₃O₄","e":7775.6,"v":0.0031},{"s":"Co(II,III)₃O₄","e":7777,"v":0.0026},{"s":"Co(II,III)₃O₄","e":7778.5,"v":0.004},{"s":"Co(II,III)₃O₄","e":7780,"v":0.0021},{"s":"Co(II,III)₃O₄","e":7781.4,"v":0.004},{"s":"Co(II,III)₃O₄","e":7782.9,"v":0.0012},{"s":"Co(II,III)₃O₄","e":7784.4,"v":0.0026},{"s":"Co(II,III)₃O₄","e":7785.9,"v":0.0007},{"s":"Co(II,III)₃O₄","e":7787.3,"v":0.0002},{"s":"Co(II,III)₃O₄","e":7788.8,"v":-0.0012},{"s":"Co(II,III)₃O₄","e":7790.1,"v":-0.0017},
    {"s":"PrCo(III)O₃","e":7690,"v":0.0016},{"s":"PrCo(III)O₃","e":7691.2,"v":-0.0012},{"s":"PrCo(III)O₃","e":7692.3,"v":0.0012},{"s":"PrCo(III)O₃","e":7693.4,"v":-0.0003},{"s":"PrCo(III)O₃","e":7694.5,"v":-0.0012},{"s":"PrCo(III)O₃","e":7695.6,"v":0.0012},{"s":"PrCo(III)O₃","e":7696.7,"v":0.0016},{"s":"PrCo(III)O₃","e":7697.8,"v":-0.0003},{"s":"PrCo(III)O₃","e":7698.9,"v":-0.0012},{"s":"PrCo(III)O₃","e":7700,"v":0.0002},{"s":"PrCo(III)O₃","e":7701.1,"v":0.0002},{"s":"PrCo(III)O₃","e":7702.2,"v":0.0012},{"s":"PrCo(III)O₃","e":7703.3,"v":0.0018},{"s":"PrCo(III)O₃","e":7704.4,"v":0.0026},{"s":"PrCo(III)O₃","e":7705.5,"v":0.0016},{"s":"PrCo(III)O₃","e":7706.6,"v":0.0021},{"s":"PrCo(III)O₃","e":7707.7,"v":0.0035},{"s":"PrCo(III)O₃","e":7708.8,"v":0.0026},{"s":"PrCo(III)O₃","e":7709.9,"v":0.0016},{"s":"PrCo(III)O₃","e":7710.6,"v":0.0002},{"s":"PrCo(III)O₃","e":7711.4,"v":0.0016},{"s":"PrCo(III)O₃","e":7712.1,"v":0.0035},{"s":"PrCo(III)O₃","e":7712.8,"v":0.004},{"s":"PrCo(III)O₃","e":7713.6,"v":0.0031},{"s":"PrCo(III)O₃","e":7714.3,"v":0.006},{"s":"PrCo(III)O₃","e":7715,"v":0.0055},{"s":"PrCo(III)O₃","e":7716.1,"v":0.0083},{"s":"PrCo(III)O₃","e":7717.2,"v":0.0127},{"s":"PrCo(III)O₃","e":7718.2,"v":0.016},{"s":"PrCo(III)O₃","e":7719.1,"v":0.0227},{"s":"PrCo(III)O₃","e":7720,"v":0.0333},{"s":"PrCo(III)O₃","e":7720.9,"v":0.0395},{"s":"PrCo(III)O₃","e":7722,"v":0.0421},{"s":"PrCo(III)O₃","e":7722.9,"v":0.0421},{"s":"PrCo(III)O₃","e":7723.8,"v":0.039},{"s":"PrCo(III)O₃","e":7724.6,"v":0.0323},{"s":"PrCo(III)O₃","e":7725.5,"v":0.0227},{"s":"PrCo(III)O₃","e":7726.4,"v":0.0122},{"s":"PrCo(III)O₃","e":7727.5,"v":0.0007},{"s":"PrCo(III)O₃","e":7728.5,"v":-0.008},{"s":"PrCo(III)O₃","e":7729.4,"v":-0.0075},{"s":"PrCo(III)O₃","e":7730.5,"v":-0.0051},{"s":"PrCo(III)O₃","e":7731.6,"v":-0.0041},{"s":"PrCo(III)O₃","e":7732.7,"v":-0.0022},{"s":"PrCo(III)O₃","e":7733.8,"v":0.0016},{"s":"PrCo(III)O₃","e":7734.9,"v":0.0012},{"s":"PrCo(III)O₃","e":7736,"v":0.0012},{"s":"PrCo(III)O₃","e":7737.1,"v":-0.0003},{"s":"PrCo(III)O₃","e":7738.2,"v":0.0002},{"s":"PrCo(III)O₃","e":7739.1,"v":0.001},{"s":"PrCo(III)O₃","e":7740.5,"v":0.0021},{"s":"PrCo(III)O₃","e":7742.8,"v":-0.0012},{"s":"PrCo(III)O₃","e":7744.3,"v":-0.0041},{"s":"PrCo(III)O₃","e":7745.4,"v":-0.0089},{"s":"PrCo(III)O₃","e":7746.5,"v":-0.007},{"s":"PrCo(III)O₃","e":7747.6,"v":-0.0089},{"s":"PrCo(III)O₃","e":7748.2,"v":-0.0123},{"s":"PrCo(III)O₃","e":7749,"v":-0.007},{"s":"PrCo(III)O₃","e":7750.1,"v":-0.0051},{"s":"PrCo(III)O₃","e":7751.2,"v":-0.0051},{"s":"PrCo(III)O₃","e":7752.3,"v":-0.0041},{"s":"PrCo(III)O₃","e":7753.3,"v":-0.0032},{"s":"PrCo(III)O₃","e":7754.4,"v":-0.0017},{"s":"PrCo(III)O₃","e":7755.6,"v":-0.0003},{"s":"PrCo(III)O₃","e":7756.7,"v":-0.0008},{"s":"PrCo(III)O₃","e":7757.8,"v":0.0012},{"s":"PrCo(III)O₃","e":7758.9,"v":0.0002},{"s":"PrCo(III)O₃","e":7759.9,"v":0.0026},{"s":"PrCo(III)O₃","e":7761,"v":0.0031},{"s":"PrCo(III)O₃","e":7762.1,"v":0.0026},{"s":"PrCo(III)O₃","e":7763.2,"v":0.004},{"s":"PrCo(III)O₃","e":7764.3,"v":0.0045},{"s":"PrCo(III)O₃","e":7765.4,"v":0.0055},{"s":"PrCo(III)O₃","e":7766.5,"v":0.0064},{"s":"PrCo(III)O₃","e":7767.6,"v":0.0069},{"s":"PrCo(III)O₃","e":7768.3,"v":0.0074},{"s":"PrCo(III)O₃","e":7769,"v":0.0045},{"s":"PrCo(III)O₃","e":7769.8,"v":0.006},{"s":"PrCo(III)O₃","e":7770.9,"v":0.004},{"s":"PrCo(III)O₃","e":7772,"v":0.0035},{"s":"PrCo(III)O₃","e":7773,"v":0.004},{"s":"PrCo(III)O₃","e":7774.1,"v":0.0031},{"s":"PrCo(III)O₃","e":7775.2,"v":0.0016},{"s":"PrCo(III)O₃","e":7776.3,"v":0.0026},{"s":"PrCo(III)O₃","e":7777.4,"v":0.0016},{"s":"PrCo(III)O₃","e":7778.5,"v":-0.0012},{"s":"PrCo(III)O₃","e":7779.6,"v":0.0012},{"s":"PrCo(III)O₃","e":7780.7,"v":0.0021},{"s":"PrCo(III)O₃","e":7781.8,"v":0.0016},{"s":"PrCo(III)O₃","e":7782.9,"v":0.0012},{"s":"PrCo(III)O₃","e":7784,"v":0.0031},{"s":"PrCo(III)O₃","e":7785.1,"v":0.0026},{"s":"PrCo(III)O₃","e":7786.2,"v":0.0012},{"s":"PrCo(III)O₃","e":7787.3,"v":0.0007},{"s":"PrCo(III)O₃","e":7788.4,"v":0.0002},{"s":"PrCo(III)O₃","e":7789.5,"v":-0.0012},{"s":"PrCo(III)O₃","e":7790.1,"v":-0.0022}
  ],
  "inset": [
    {"s":"Co foil","n":0,"p":7709},{"s":"Co(II)O","n":2,"p":7715.5},{"s":"PrCo(III)O₃","n":3,"p":7722.3}
  ]
},
"vconcat": [
  {
    "width": 454, "height": 279,
    "title": {"text": "A", "offset": -37, "dx": 20},
    "resolve": {"axis": {"x": "independent", "y": "independent"}},
    "layer": [
      {
        "data": {"name": "measA"},
        "mark": {"type": "point", "filled": true, "size": 11, "opacity": 1, "clip": true},
        "encoding": {
          "x": {"field": "e", "type": "quantitative", "scale": {"domain": [7680, 7900], "nice": false, "zero": false}, "axis": {"values": [7700, 7750, 7800, 7850, 7900], "format": "d", "title": "Energy (eV)", "titleY": 34}},
          "y": {"field": "v", "type": "quantitative", "scale": {"domain": [-0.015, 1.5], "nice": false, "zero": false}, "axis": {"values": [0, 0.2, 0.4, 0.6, 0.8, 1.0, 1.2, 1.4], "format": ".1f", "title": "Relative absorption", "titleX": -49}},
          "color": {"datum": "meas. CoO, 10 min", "scale": {"domain": ["meas. CoO, 10 min", "ref. CoO, 7 min"], "range": ["#0000ff", "#008000"]},
            "legend": {"title": null, "symbolSize": 625, "rowPadding": 2, "encode": {
              "symbols": {"update": {
                "shape": {"signal": "datum.value === 'ref. CoO, 7 min' ? 'stroke' : 'M-1.04 0a0.14 0.14 0 1 0 0.28 0a0.14 0.14 0 1 0 -0.28 0M0.76 0a0.14 0.14 0 1 0 0.28 0a0.14 0.14 0 1 0 -0.28 0'"},
                "size": {"value": 625},
                "fill": {"signal": "datum.value === 'ref. CoO, 7 min' ? 'transparent' : '#0000ff'"},
                "stroke": {"signal": "datum.value === 'ref. CoO, 7 min' ? '#008000' : 'transparent'"},
                "strokeWidth": {"value": 1.5},
                "opacity": {"value": 1}
              }},
              "legend": {"update": {"strokeWidth": {"value": 1.5}}}
            }}}
        }
      },
      {
        "data": {"name": "refA"},
        "mark": {"type": "line", "strokeWidth": 1.5, "clip": true},
        "encoding": {
          "x": {"field": "e", "type": "quantitative", "axis": {"orient": "top", "labels": false, "title": null, "values": [7700, 7750, 7800, 7850, 7900]}},
          "y": {"field": "v", "type": "quantitative", "axis": {"orient": "right", "labels": false, "title": null, "values": [0, 0.2, 0.4, 0.6, 0.8, 1.0, 1.2, 1.4]}},
          "color": {"datum": "ref. CoO, 7 min",
            "legend": {"title": null, "symbolSize": 625, "rowPadding": 2, "encode": {
              "symbols": {"update": {
                "shape": {"signal": "datum.value === 'ref. CoO, 7 min' ? 'stroke' : 'M-1.04 0a0.14 0.14 0 1 0 0.28 0a0.14 0.14 0 1 0 -0.28 0M0.76 0a0.14 0.14 0 1 0 0.28 0a0.14 0.14 0 1 0 -0.28 0'"},
                "size": {"value": 625},
                "fill": {"signal": "datum.value === 'ref. CoO, 7 min' ? 'transparent' : '#0000ff'"},
                "stroke": {"signal": "datum.value === 'ref. CoO, 7 min' ? '#008000' : 'transparent'"},
                "strokeWidth": {"value": 1.5},
                "opacity": {"value": 1}
              }},
              "legend": {"update": {"strokeWidth": {"value": 1.5}}}
            }}}
        }
      }
    ]
  },
  {
    "width": 454, "height": 278,
    "title": {"text": "B", "offset": -43, "dx": 21},
    "resolve": {"axis": {"x": "independent", "y": "independent"}},
    "data": {"name": "B"},
    "layer": [
      {
        "mark": {"type": "line", "strokeWidth": 3, "interpolate": "monotone", "clip": true},
        "encoding": {
          "x": {"field": "e", "type": "quantitative", "scale": {"domain": [7690, 7790], "nice": false, "zero": false}, "axis": {"values": [7700, 7720, 7740, 7760, 7780], "format": "d", "title": "Energy (eV)", "titleY": 34}},
          "y": {"field": "v", "type": "quantitative", "scale": {"domain": [-0.15, 1.5], "nice": false, "zero": false}, "axis": {"values": [0, 0.2, 0.4, 0.6, 0.8, 1.0, 1.2, 1.4], "format": ".1f", "title": "Relative absorption", "titleX": -49}},
          "color": {"field": "s", "type": "nominal", "scale": {"domain": ["Co foil", "Co(II)O", "Co(II,III)₃O₄", "PrCo(III)O₃"], "range": ["#000000", "#0000ff", "#bf00bf", "#ff4040"]},
            "legend": {"title": null, "symbolType": "stroke", "symbolStrokeWidth": 3, "symbolSize": 700, "rowPadding": 4, "encode": {"legend": {"update": {"strokeWidth": {"value": 1.5}}}}}}
        }
      },
      {
        "mark": {"type": "point", "opacity": 0},
        "encoding": {
          "x": {"field": "e", "type": "quantitative", "axis": {"orient": "top", "labels": false, "title": null, "values": [7700, 7720, 7740, 7760, 7780]}},
          "y": {"field": "v", "type": "quantitative", "axis": {"orient": "right", "labels": false, "title": null, "values": [0, 0.2, 0.4, 0.6, 0.8, 1.0, 1.2, 1.4]}}
        }
      }
    ]
  },
  {
    "width": 454, "height": 278,
    "title": {"text": "C", "offset": -42, "dx": 21},
    "resolve": {"scale": {"x": "independent", "y": "independent"}, "axis": {"x": "independent", "y": "independent"}},
    "layer": [
      {
        "data": {"name": "C"},
        "mark": {"type": "line", "strokeWidth": 3, "clip": true},
        "encoding": {
          "x": {"field": "e", "type": "quantitative", "scale": {"domain": [7690, 7790], "nice": false, "zero": false}, "axis": {"values": [7700, 7720, 7740, 7760, 7780], "format": "d", "title": "Energy (eV)", "titleY": 34}},
          "y": {"field": "v", "type": "quantitative", "scale": {"domain": [-0.02, 0.06], "nice": false, "zero": false}, "axis": {"values": [-0.02, -0.01, 0, 0.01, 0.02, 0.03, 0.04, 0.05, 0.06], "format": ".2f", "title": null}},
          "color": {"field": "s", "type": "nominal", "scale": {"domain": ["Co foil", "Co(II)O", "Co(II,III)₃O₄", "PrCo(III)O₃"], "range": ["#000000", "#0000ff", "#bf00bf", "#ff4040"]}, "legend": null}
        }
      },
      {
        "data": {"name": "C"},
        "mark": {"type": "point", "opacity": 0},
        "encoding": {
          "x": {"field": "e", "type": "quantitative", "scale": {"domain": [7690, 7790], "nice": false, "zero": false}, "axis": {"orient": "top", "labels": false, "title": null, "values": [7700, 7720, 7740, 7760, 7780]}},
          "y": {"field": "v", "type": "quantitative", "scale": {"domain": [-0.02, 0.06], "nice": false, "zero": false}, "axis": {"orient": "right", "labels": false, "title": null, "values": [-0.02, -0.01, 0, 0.01, 0.02, 0.03, 0.04, 0.05, 0.06]}}
        }
      },
      {
        "data": {"values": [{}]},
        "mark": {"type": "rect", "fill": "white", "stroke": "black", "strokeWidth": 1.5},
        "encoding": {
          "x": {"datum": -0.5, "type": "quantitative", "scale": {"domain": [-8.854, 4.468], "nice": false, "zero": false}, "axis": {"orient": "bottom", "offset": -177.3, "values": [0, 1, 2, 3], "format": "d", "tickSize": -4, "labelFontSize": 17, "labelPadding": 9, "title": "Co oxidation number", "titleFontSize": 17, "titleX": 352, "titleY": 31}},
          "x2": {"datum": 3.5},
          "y": {"datum": 7705, "type": "quantitative", "scale": {"domain": [7659.77, 7730.69], "nice": false, "zero": false}, "axis": {"orient": "left", "offset": -284.7, "values": [7705, 7710, 7715, 7720, 7725], "format": "d", "tickSize": -4, "labelFontSize": 17, "labelPadding": 8, "title": "edge pos. (eV)", "titleFontSize": 17, "titleX": -59, "titleY": 61.5}},
          "y2": {"datum": 7725}
        }
      },
      {
        "data": {"name": "inset"},
        "mark": {"type": "point", "filled": true, "size": 110, "opacity": 1, "stroke": "black", "strokeWidth": 1},
        "encoding": {
          "x": {"field": "n", "type": "quantitative", "scale": {"domain": [-8.854, 4.468], "nice": false, "zero": false}, "axis": {"orient": "top", "offset": -22.3, "values": [0, 1, 2, 3], "labels": false, "tickSize": -4, "title": null}},
          "y": {"field": "p", "type": "quantitative", "scale": {"domain": [7659.77, 7730.69], "nice": false, "zero": false}, "axis": {"orient": "right", "offset": -33, "values": [7705, 7710, 7715, 7720, 7725], "labels": false, "tickSize": -4, "title": null}},
          "color": {"field": "s", "type": "nominal", "legend": null}
        }
      }
    ]
  }
]
}
